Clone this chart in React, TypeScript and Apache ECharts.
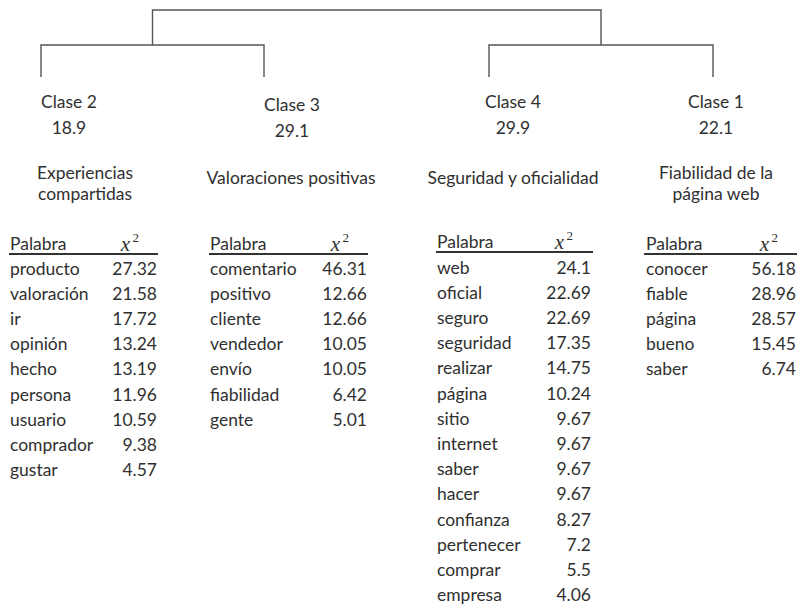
import React, { useEffect, useRef } from "react";
import * as echarts from "echarts";

// ---- data ----
const classNames = ["Clase 2", "Clase 3", "Clase 4", "Clase 1"];
const classPercents = ["18.9", "29.1", "29.9", "22.1"];
const classTitles = [
  ["Experiencias", "compartidas"],
  ["Valoraciones positivas"],
  ["Seguridad y oficialidad"],
  ["Fiabilidad de la", "página web"],
];
const headerWord = "Palabra";

const words2 = ["producto", "valoración", "ir", "opinión", "hecho", "persona", "usuario", "comprador", "gustar"];
const chi2 = [27.32, 21.58, 17.72, 13.24, 13.19, 11.96, 10.59, 9.38, 4.57];

const words3 = ["comentario", "positivo", "cliente", "vendedor", "envío", "fiabilidad", "gente"];
const chi3 = [46.31, 12.66, 12.66, 10.05, 10.05, 6.42, 5.01];

const words4 = ["web", "oficial", "seguro", "seguridad", "realizar", "página", "sitio", "internet", "saber", "hacer", "confianza", "pertenecer", "comprar", "empresa"];
const chi4 = [24.1, 22.69, 22.69, 17.35, 14.75, 10.24, 9.67, 9.67, 9.67, 9.67, 8.27, 7.2, 5.5, 4.06];

const words1 = ["conocer", "fiable", "página", "bueno", "saber"];
const chi1 = [56.18, 28.96, 28.57, 15.45, 6.74];

const tableWords = [words2, words3, words4, words1];
const tableValues = [chi2, chi3, chi4, chi1];

// ---- layout ----
const leafX = [41, 264, 489, 713];
const topY = 10;
const midY = 45;
const leafBottom = 77;
const labelCX = [69, 292, 513, 716];
const labelY = [101, 104, 101, 101];
const pctY = [127, 130, 127, 127];
const titleCX = [85, 291, 513, 716];
const titleY1 = 177;
const titleY2 = [172, 193];
const wordX = [10, 210, 437, 646];
const numRight = [157, 367, 591, 796];
const lineX0 = [9, 209, 436, 644];
const lineX1 = [158, 368, 593, 797];
const headerY = [243, 243, 241, 243];
const ruleY = [254, 254, 252, 254];
const firstRowY = [268, 268, 267, 268];
const rowStep = 25.2;

const TEXT = "#303030";
const FAMILY = "Lato";

function fitSize(text: string, target: number, family: string) {
  try {
    const ctx = document.createElement("canvas").getContext("2d");
    if (!ctx) return 17.5;
    ctx.font = `100px ${family}`;
    const w = ctx.measureText(text).width;
    if (!w) return 17.5;
    return (100 * target) / w;
  } catch (e) {
    return 17.5;
  }
}

export default function App() {
  const ref = useRef<HTMLDivElement>(null);
  useEffect(() => {
    if (!ref.current) return;
    const chart = echarts.init(ref.current, null, { renderer: "svg" });
    const fs = fitSize("Valoraciones positivas", 169, FAMILY);
    const els: any[] = [];
    const txt = (x: number, y: number, text: string, align: string, extra: any = {}) => ({
      type: "text",
      x,
      y,
      style: {
        text,
        fill: TEXT,
        fontSize: fs,
        fontFamily: FAMILY,
        align,
        verticalAlign: "middle",
        ...extra,
      },
    });
    const lineStyle = { stroke: "#555", lineWidth: 1.4, fill: "none" };
    // dendrogram
    for (let p = 0; p < 2; p++) {
      const a = leafX[p * 2];
      const b = leafX[p * 2 + 1];
      els.push({
        type: "polyline",
        shape: { points: [[a, leafBottom], [a, midY], [b, midY], [b, leafBottom]] },
        style: lineStyle,
      });
    }
    const m1 = (leafX[0] + leafX[1]) / 2;
    const m2 = (leafX[2] + leafX[3]) / 2;
    els.push({
      type: "polyline",
      shape: { points: [[m1, midY], [m1, topY], [m2, topY], [m2, midY]] },
      style: lineStyle,
    });

    for (let i = 0; i < 4; i++) {
      els.push(txt(labelCX[i], labelY[i], classNames[i], "center"));
      els.push(txt(labelCX[i], pctY[i], classPercents[i], "center"));
      const t = classTitles[i];
      if (t.length === 1) {
        els.push(txt(titleCX[i], titleY1, t[0], "center"));
      } else {
        t.forEach((line, k) => els.push(txt(titleCX[i], titleY2[k], line, "center")));
      }
      // table header
      els.push(txt(wordX[i], headerY[i], headerWord, "left"));
      const xr = numRight[i] - 18;
      els.push({
        type: "text",
        x: xr - 9,
        y: headerY[i] + 1,
        style: {
          text: "x",
          fill: TEXT,
          fontSize: 21,
          fontFamily: "Liberation Serif",
          fontStyle: "italic",
          align: "right",
          verticalAlign: "middle",
        },
      });
      els.push({
        type: "text",
        x: xr,
        y: headerY[i] - 6,
        style: {
          text: "2",
          fill: TEXT,
          fontSize: 13,
          fontFamily: "Liberation Serif",
          align: "right",
          verticalAlign: "middle",
        },
      });
      els.push({
        type: "line",
        shape: { x1: lineX0[i], y1: ruleY[i], x2: lineX1[i], y2: ruleY[i] },
        style: { stroke: "#333", lineWidth: 2 },
      });
      const ws = tableWords[i];
      const vs = tableValues[i];
      ws.forEach((w, r) => {
        const y = firstRowY[i] + r * rowStep;
        els.push(txt(wordX[i], y, w, "left"));
        els.push(txt(numRight[i], y, String(vs[r]), "right"));
      });
    }

    chart.setOption({
      animation: false,
      backgroundColor: "#ffffff",
      graphic: { elements: els },
    });
    return () => chart.dispose();
  }, []);
  return (
    <div
      ref={ref}
      style={{ position: "fixed", left: 0, top: 0, width: 798, height: 609, background: "#fff" }}
    />
  );
}
